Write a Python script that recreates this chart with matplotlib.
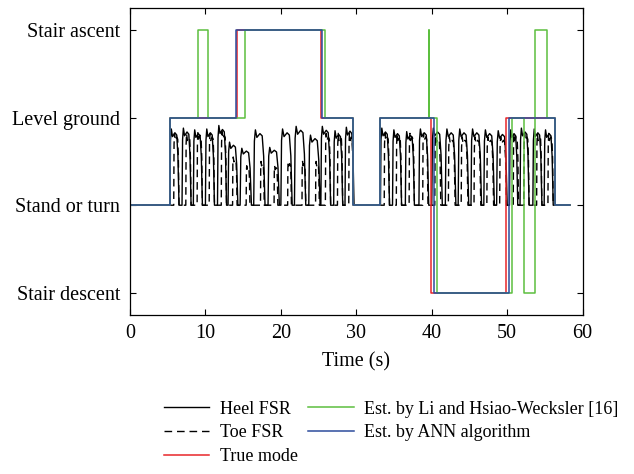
import matplotlib
matplotlib.use('Agg')
import matplotlib.pyplot as plt
import numpy as np

plt.rcParams['font.family'] = ['Liberation Serif', 'DejaVu Serif']
plt.rcParams['font.size'] = 14.5

# locomotion modes (y level of each mode)
mode_labels = ['Stair descent', 'Stand or turn', 'Level ground', 'Stair ascent']
mode_levels = [-1, 0, 1, 2]

# mode sequences: change times (s) and mode level after each change
true_t = [0, 5.3, 14.2, 25.3, 29.6, 33.2, 39.9, 49.9, 56.3, 58.3]
true_v = [0, 1, 2, 1, 0, 1, -1, 1, 0, 0]

li_t = [0, 5.3, 9.0, 10.4, 15.2, 25.8, 29.6, 33.2, 39.6, 39.65, 40.7, 50.7, 52.2, 53.7, 55.3, 56.3, 58.3]
li_v = [0, 1, 2, 1, 2, 1, 0, 1, 2, 1, -1, 1, -1, 2, 1, 0, 0]

ann_t = [0, 5.3, 14.1, 25.4, 29.6, 33.2, 40.3, 50.2, 56.3, 58.3]
ann_v = [0, 1, 2, 1, 0, 1, -1, 1, 0, 0]

# heel FSR pulses: onset time (s), duration (s), peak height
heel_on = [5.3, 6.9, 8.4, 10.0, 11.6, 13.0, 14.6, 16.4, 18.3, 20.0, 21.8, 23.7, 25.3, 27.0, 28.5,
           33.2, 34.8, 36.5, 38.3, 40.0, 41.8, 43.5, 45.2, 46.9, 48.6, 50.3, 51.7, 53.4, 54.9]
heel_dur = [1.2, 1.2, 1.2, 1.2, 1.2, 1.3, 1.5, 1.5, 1.5, 1.5, 1.5, 1.5, 1.3, 1.2, 1.2,
            1.2, 1.2, 1.2, 1.3, 1.4, 1.4, 1.4, 1.4, 1.4, 1.4, 1.1, 1.2, 1.2, 1.2]
heel_h = [0.87, 0.88, 0.86, 0.87, 0.91, 0.72, 0.65, 0.86, 0.66, 0.87, 0.90, 0.80, 0.90, 0.85, 0.89,
          0.88, 0.86, 0.84, 0.87, 0.88, 0.87, 0.87, 0.87, 0.86, 0.85, 0.86, 0.88, 0.87, 0.86]

# toe FSR pulses: onset time (s), duration (s), peak height
toe_on = [5.8, 7.4, 8.9, 10.5, 12.1, 13.6, 15.4, 17.3, 19.1, 20.9, 22.8, 24.6, 25.9, 27.5, 29.0,
          33.7, 35.3, 37.0, 38.8, 40.4, 42.2, 43.9, 45.6, 47.3, 49.0, 50.8, 52.2, 53.9, 55.4]
toe_dur = [0.7, 0.7, 0.7, 0.7, 0.7, 0.6, 0.5, 0.5, 0.5, 0.5, 0.5, 0.5, 0.7, 0.7, 0.6,
           0.7, 0.7, 0.7, 0.7, 0.8, 0.9, 0.9, 0.9, 0.9, 0.9, 0.7, 0.7, 0.7, 0.7]
toe_h = [0.82, 0.82, 0.84, 0.82, 0.84, 0.55, 0.45, 0.50, 0.45, 0.50, 0.50, 0.50, 0.82, 0.82, 0.82,
         0.82, 0.82, 0.82, 0.82, 0.80, 0.78, 0.78, 0.78, 0.78, 0.78, 0.82, 0.82, 0.82, 0.82]

t_end = 58.3


def pulse_trace(onsets, durs, heights, end):
    xs, ys = [0.0], [0.0]
    for t0, d, h in zip(onsets, durs, heights):
        xs += [t0, t0 + 0.06 * d, t0 + 0.15 * d, t0 + 0.28 * d, t0 + 0.55 * d, t0 + 0.75 * d,
               t0 + 0.88 * d, t0 + d]
        ys += [0.0, 0.85 * h, h, 0.9 * h, 0.95 * h, 0.92 * h, 0.65 * h, 0.0]
    xs.append(end)
    ys.append(0.0)
    return xs, ys


fig = plt.figure(figsize=(6.34, 4.74), dpi=100)
ax = fig.add_axes([0.205, 0.336, 0.714, 0.647])

hx, hy = pulse_trace(heel_on, heel_dur, heel_h, t_end)
tx, ty = pulse_trace(toe_on, toe_dur, toe_h, t_end)
ax.plot(hx, hy, color='black', lw=1.0, label='Heel FSR')
ax.plot(tx, ty, color='black', lw=1.0, ls='--', dashes=(5.5, 3.5), label='Toe FSR')
ax.plot(true_t, true_v, drawstyle='steps-post', color='#e8262a', lw=1.1, label='True mode')
ax.plot(li_t, li_v, drawstyle='steps-post', color='#5cbf3f', lw=1.1, label='Est. by Li and Hsiao-Wecksler [16]')
ax.plot(ann_t, ann_v, drawstyle='steps-post', color='#2c4c9c', lw=1.1, label='Est. by ANN algorithm')

ax.set_xlim(0, 60)
ax.set_ylim(-1.25, 2.25)
ax.set_xticks(np.arange(0, 61, 10))
ax.set_yticks(mode_levels)
ax.set_yticklabels(mode_labels)
ax.tick_params(direction='in', top=True, right=True, length=4, width=0.8, pad=7)
ax.set_xlabel('Time (s)', labelpad=6)
for s in ax.spines.values():
    s.set_linewidth(0.9)

fig.legend(loc='upper left', bbox_to_anchor=(0.258, 0.155), ncol=2, frameon=False,
           borderpad=0, borderaxespad=0, handlelength=2.5, handletextpad=0.6,
           labelspacing=0.38, columnspacing=0.6, fontsize=13)

fig.savefig('out.png', dpi=100)
